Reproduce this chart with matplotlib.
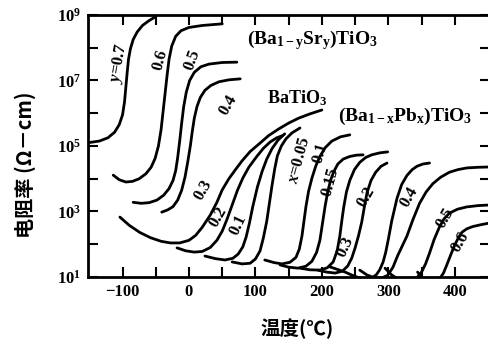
import numpy as np
import matplotlib.pyplot as plt
from matplotlib.ticker import FixedLocator, NullFormatter

plt.rcParams['font.family'] = 'Liberation Serif'
plt.rcParams['font.weight'] = 'bold'
plt.rcParams['mathtext.fontset'] = 'custom'
plt.rcParams['mathtext.rm'] = 'Liberation Serif:bold'
plt.rcParams['mathtext.it'] = 'Liberation Serif:italic:bold'

# (Ba1-ySry)TiO3: температура (°C) и lg(rho)
sr07_t = [-152, -135, -122, -112, -105, -100, -97, -95, -93, -91, -88, -84, -78, -70, -60, -50]
sr07_lg = [5.10, 5.15, 5.25, 5.42, 5.65, 5.95, 6.35, 6.80, 7.25, 7.65, 7.98, 8.25, 8.48, 8.68, 8.83, 8.95]
sr06_t = [-114, -105, -95, -85, -75, -65, -57, -51, -46, -42, -39, -36, -33, -30, -26, -20, -12, 0, 20, 50]
sr06_lg = [4.11, 3.97, 3.90, 3.92, 4.00, 4.15, 4.35, 4.62, 5.00, 5.50, 6.05, 6.60, 7.15, 7.65, 8.05, 8.35,
           8.52, 8.62, 8.68, 8.73]
sr05_t = [-84, -72, -60, -48, -38, -30, -24, -20, -17, -14, -11, -8, -4, 1, 8, 18, 30, 50, 72]
sr05_lg = [3.28, 3.25, 3.27, 3.35, 3.50, 3.70, 3.95, 4.25, 4.65, 5.15, 5.70, 6.20, 6.65, 7.00, 7.25, 7.42,
           7.50, 7.55, 7.56]
sr04_t = [-41, -32, -24, -17, -11, -6, -2, 2, 5, 8, 12, 17, 24, 33, 45, 60, 77]
sr04_lg = [2.98, 3.05, 3.15, 3.35, 3.65, 4.05, 4.50, 5.00, 5.45, 5.85, 6.20, 6.48, 6.70, 6.85, 6.96, 7.02, 7.05]
sr03_t = [-104, -90, -74, -58, -42, -28, -14, 0, 10, 20, 32, 42, 50, 60, 70, 80, 92, 107, 120, 135, 150,
          165, 182, 200]
sr03_lg = [2.83, 2.58, 2.36, 2.20, 2.09, 2.04, 2.04, 2.12, 2.27, 2.52, 2.89, 3.28, 3.66, 4.00, 4.28, 4.55,
           4.83, 5.09, 5.32, 5.52, 5.70, 5.85, 5.98, 6.10]
sr02_t = [-18, -5, 8, 20, 32, 42, 50, 57, 65, 73, 81, 90, 102, 112, 122, 132, 140]
sr02_lg = [1.89, 1.80, 1.76, 1.78, 1.90, 2.12, 2.40, 2.75, 3.20, 3.65, 4.02, 4.35, 4.68, 4.93, 5.12, 5.25, 5.31]
sr01_t = [24, 40, 54, 66, 74, 81, 86, 91, 96, 103, 110, 117, 125, 134, 144]
sr01_lg = [1.64, 1.56, 1.52, 1.57, 1.70, 1.92, 2.22, 2.65, 3.15, 3.75, 4.22, 4.60, 4.92, 5.18, 5.37]
bto_t = [65, 80, 92, 100, 107, 112, 117, 121, 125, 129, 133, 139, 146, 155, 167]
bto_lg = [1.46, 1.40, 1.42, 1.55, 1.80, 2.20, 2.70, 3.25, 3.80, 4.30, 4.70, 5.00, 5.22, 5.40, 5.55]

# (Ba1-xPbx)TiO3
pb005_t = [114, 128, 140, 152, 161, 166, 170, 173, 176, 180, 185, 191, 197, 205, 215, 228, 242]
pb005_lg = [1.52, 1.44, 1.40, 1.45, 1.60, 1.85, 2.25, 2.70, 3.15, 3.62, 4.02, 4.40, 4.68, 4.95, 5.15, 5.28, 5.34]
pb01_t = [137, 150, 164, 176, 185, 192, 197, 201, 205, 209, 213, 218, 224, 232, 242, 252, 262]
pb01_lg = [1.37, 1.30, 1.27, 1.33, 1.48, 1.75, 2.12, 2.65, 3.18, 3.62, 3.95, 4.22, 4.45, 4.60, 4.68, 4.72, 4.73]
pb015_t = [167, 182, 197, 208, 217, 223, 227, 230, 233, 237, 242, 249, 257, 266, 275, 287, 299]
pb015_lg = [1.27, 1.22, 1.21, 1.28, 1.46, 1.80, 2.25, 2.72, 3.15, 3.60, 3.95, 4.28, 4.50, 4.65, 4.73, 4.79, 4.82]
pb02_t = [194, 207, 220, 231, 239, 245, 250, 255, 260, 264, 268, 274, 281, 289, 298]
pb02_lg = [1.21, 1.15, 1.12, 1.18, 1.34, 1.58, 1.89, 2.25, 2.68, 3.15, 3.58, 3.95, 4.20, 4.38, 4.48]
pb03_t = [212, 225, 235, 246, 257, 266, 275, 282, 287, 292, 296, 300, 305, 313, 320, 328, 336, 343, 352, 362]
pb03_lg = [1.31, 1.22, 1.15, 1.05, 0.97, 0.94, 0.97, 1.07, 1.22, 1.45, 1.75, 2.15, 2.70, 3.40, 3.82, 4.10,
           4.28, 4.38, 4.45, 4.48]
pb04_t = [257, 268, 280, 290, 299, 307, 314, 321, 328, 337, 347, 357, 367, 379, 392, 405, 418, 435, 453]
pb04_lg = [1.21, 1.06, 0.97, 0.97, 1.05, 1.30, 1.65, 1.95, 2.25, 2.75, 3.25, 3.60, 3.85, 4.05, 4.20, 4.28,
           4.33, 4.35, 4.36]
pb05_t = [295, 304, 314, 325, 335, 343, 350, 356, 362, 369, 377, 384, 392, 404, 418, 435, 453]
pb05_lg = [1.27, 1.08, 0.94, 0.88, 0.88, 0.98, 1.15, 1.40, 1.73, 2.15, 2.53, 2.78, 2.95, 3.07, 3.14, 3.18, 3.20]
pb06_t = [344, 351, 359, 368, 377, 383, 388, 394, 400, 406, 411, 418, 427, 440, 453]
pb06_lg = [1.15, 0.98, 0.88, 0.87, 0.94, 1.12, 1.37, 1.68, 1.98, 2.22, 2.37, 2.47, 2.54, 2.60, 2.65]

curves = [(sr07_t, sr07_lg), (sr06_t, sr06_lg), (sr05_t, sr05_lg), (sr04_t, sr04_lg),
          (sr03_t, sr03_lg), (sr02_t, sr02_lg), (sr01_t, sr01_lg), (bto_t, bto_lg),
          (pb005_t, pb005_lg), (pb01_t, pb01_lg), (pb015_t, pb015_lg), (pb02_t, pb02_lg),
          (pb03_t, pb03_lg), (pb04_t, pb04_lg), (pb05_t, pb05_lg), (pb06_t, pb06_lg)]

# подписи кривых: текст, T, lg(rho), угол
lab_txt = ['$\\mathit{y}$=0.7', '0.6', '0.5', '0.4', '0.3', '0.2', '0.1',
           '$\\mathit{x}$=0.05', '0.1', '0.15', '0.2', '0.3', '0.4', '0.5', '0.6']
lab_t = [-105, -44, 5, 59, 21, 44, 74, 167, 197, 212, 266, 235, 332, 385, 408]
lab_lg = [7.53, 7.63, 7.63, 6.25, 3.66, 2.83, 2.59, 4.57, 4.79, 3.90, 3.44, 1.92, 3.44, 2.80, 2.07]
lab_rot = [80, 75, 70, 60, 60, 60, 65, 75, 75, 75, 60, 65, 60, 60, 60]

fig = plt.figure(figsize=(4.88, 3.40), dpi=100)
ax = fig.add_axes([0.1803, 0.1853, 0.8238, 0.7706])
ax.set_yscale('log')

for t, lg in curves:
    ax.plot(t, 10.0 ** np.array(lg), color='black', linewidth=2.0,
            solid_capstyle='round', solid_joinstyle='round')

for s, t, lg, r in zip(lab_txt, lab_t, lab_lg, lab_rot):
    ax.text(t, 10.0 ** lg, s, rotation=r, ha='center', va='center', fontsize=12,
            rotation_mode='anchor')

ax.text(186, 10 ** 8.24, '$\\mathrm{(Ba_{1-y}Sr_y)TiO_3}$', ha='center', va='center', fontsize=14)
ax.text(162, 10 ** 6.47, '$\\mathrm{BaTiO_3}$', ha='center', va='center', fontsize=13)
ax.text(325, 10 ** 5.89, '$\\mathrm{(Ba_{1-x}Pb_x)TiO_3}$', ha='center', va='center', fontsize=14)

ax.set_xlim(-152, 453)
ax.set_ylim(1e1, 1e9)
ax.set_xticks([-100, 0, 100, 200, 300, 400])
ax.set_xticklabels(['\u2212100', '0', '100', '200', '300', '400'])
ax.xaxis.set_minor_locator(FixedLocator([-50, 50, 150, 250, 350]))
ax.set_yticks([1e1, 1e3, 1e5, 1e7, 1e9])
ax.set_yticklabels(['$\\mathrm{10^{%d}}$' % k for k in [1, 3, 5, 7, 9]])
ax.yaxis.set_minor_locator(FixedLocator([1e2, 1e4, 1e6, 1e8]))
ax.yaxis.set_minor_formatter(NullFormatter())
ax.tick_params(which='both', direction='in', length=7, width=1.5, top=True, right=True,
               labelsize=12, pad=5)
for sp in ax.spines.values():
    sp.set_linewidth(2)

cjk = ['Noto Sans CJK SC', 'DejaVu Sans']
ax.set_xlabel('温度(℃)', family=cjk, fontsize=14, fontweight='bold')
ax.xaxis.set_label_coords(0.52, -0.16)
ax.set_ylabel('电阻率 (Ω－cm)', family=cjk, fontsize=14.5, fontweight='bold')
ax.yaxis.set_label_coords(-0.13, 0.43)

fig.savefig('out.png', dpi=100)
